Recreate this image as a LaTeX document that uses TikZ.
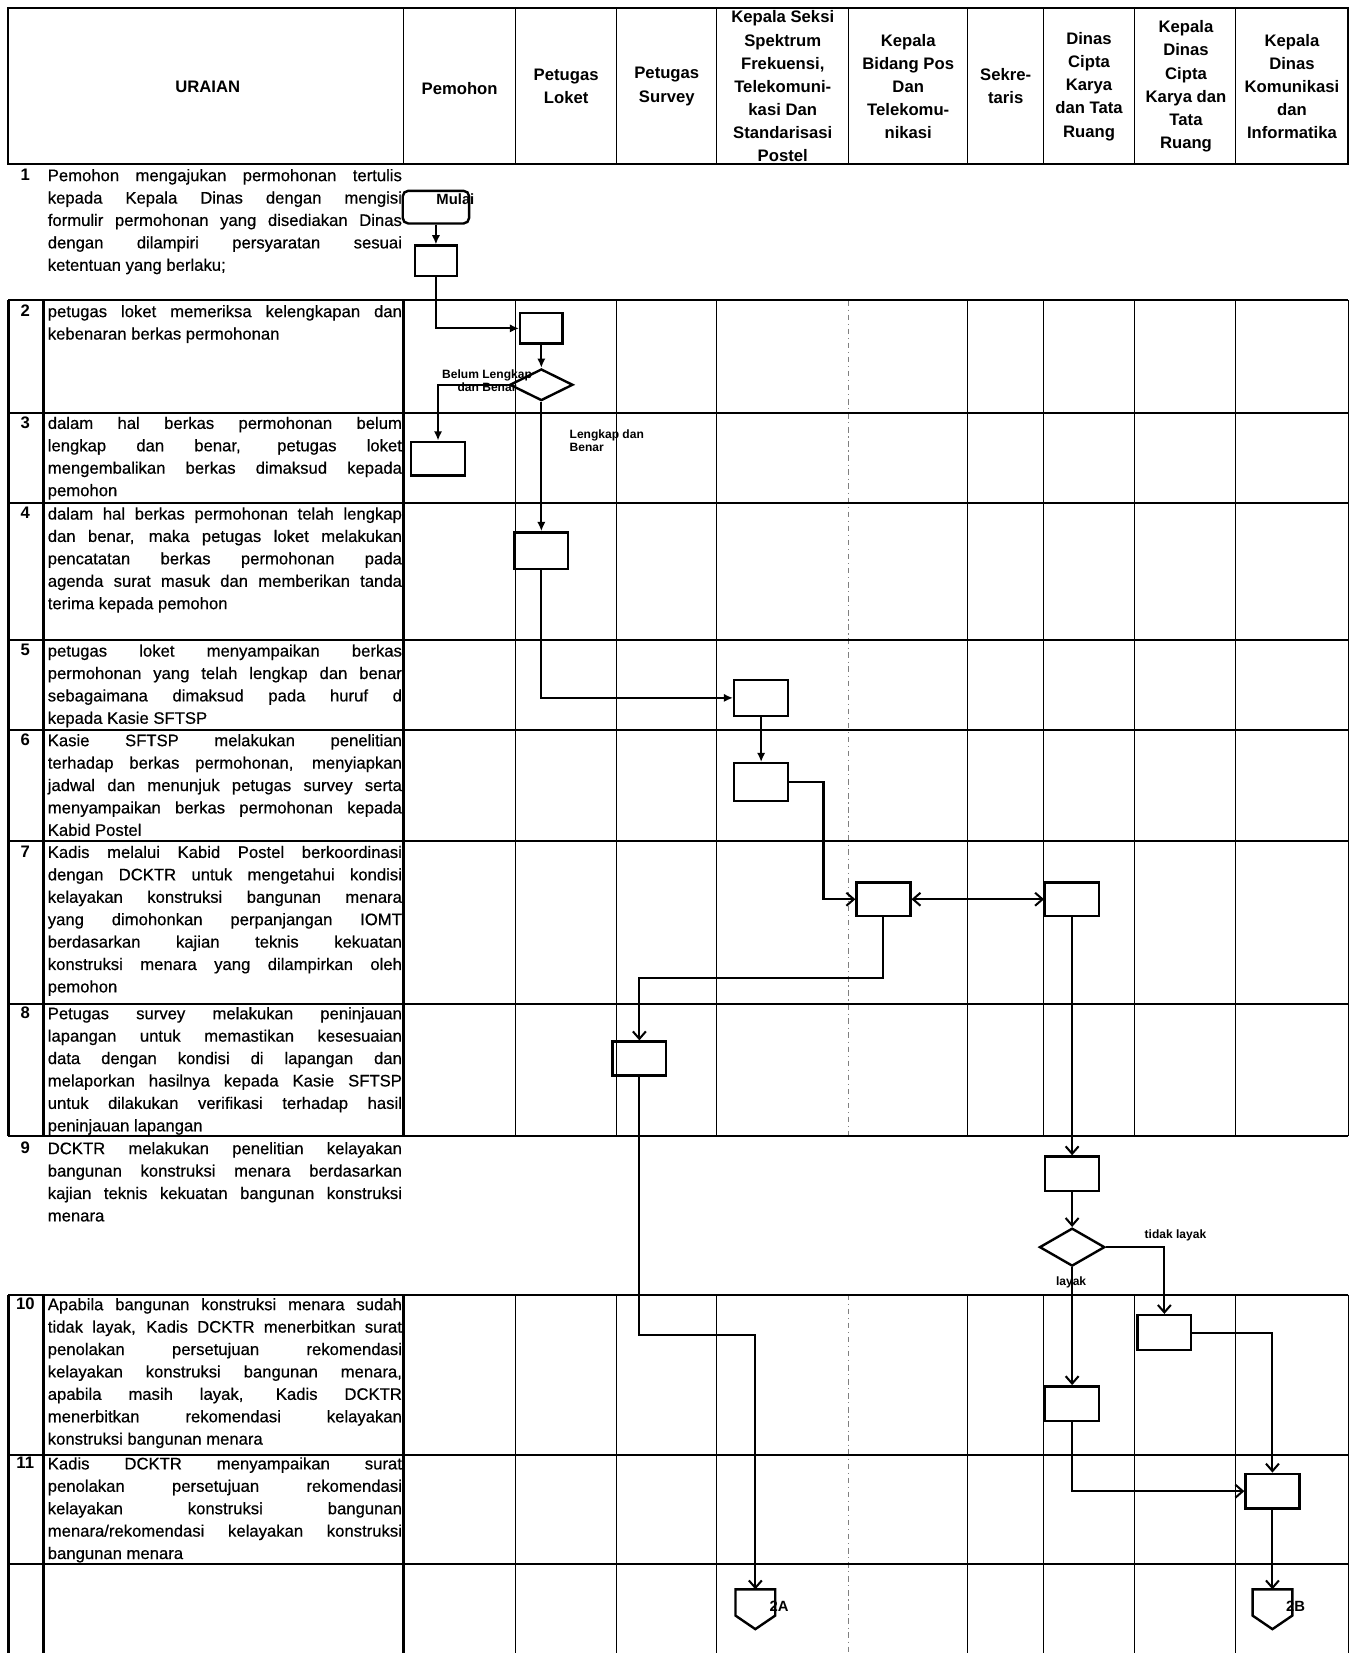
\documentclass[tikz,border=0pt]{standalone}
\usepackage{fontspec}
\setmainfont{Liberation Sans}
\newfontfamily\scanfont{Liberation Sans}[FakeBold=0.5]
\usetikzlibrary{arrows.meta,calc,shapes.geometric}

\begin{document}
\begin{tikzpicture}[x=0.02cm, y=-0.02cm, font=\fontsize{9}{12.1}\selectfont,
  hdr/.style={font=\fontsize{9}{12.5}\selectfont\bfseries, align=center, inner sep=0},
  uraian/.style={anchor=north west, text width=6.72cm, align=justify, inner sep=0, font=\fontsize{9}{12.1}\scanfont},
  nomor/.style={anchor=north, inner sep=0, font=\fontsize{9}{12.1}\selectfont\bfseries},
  hline/.style={line width=1.1pt},
  vline/.style={line width=0.6pt},
  tebal/.style={line width=1.6pt},
  box/.style={draw, line width=1.3pt, minimum width=1.02cm, minimum height=0.66cm, inner sep=0},
  smallbox/.style={box, minimum width=0.8cm, minimum height=0.58cm},
  terminal/.style={box, rounded corners=3pt, minimum width=1.26cm, minimum height=0.62cm},
  decision/.style={draw, line width=1.3pt, diamond, inner sep=0, minimum width=1.2cm, minimum height=0.6cm},
  conn/.style={minimum width=0.74cm, minimum height=0.74cm, inner sep=0},
  lbl/.style={font=\fontsize{6.5}{7}\selectfont\bfseries, inner sep=0},
  flowf/.style={line width=1.1pt, -{Latex[length=5pt,width=4.5pt]}},
  flowo/.style={line width=1.1pt, -{Straight Barb[length=4pt,width=7pt]}}]
\useasboundingbox (0,0) rectangle (1286,1568);

\draw[hline] (8,8) rectangle (1279,156);
\foreach \x in {383,489,585,680,805,918,990,1076,1172}
  \draw[vline] (\x,8) -- (\x,156);
\foreach \t/\b in {285/1078,1228/1568} {
  \foreach \x in {489,585,680,918,990,1076,1172,1279}
    \draw[vline] (\x,\t) -- (\x,\b);
  \draw[vline, gray, dash dot] (805,\t) -- (805,\b);
  \foreach \x in {8,41,383}
    \draw[tebal] (\x,\t) -- (\x,\b);
}
\foreach \y in {285,392,477,607,692,798,952,1078,1228,1380,1484}
  \draw[hline] (8,\y) -- (1279,\y);

\node[hdr] (hUraian) at (197,82) {URAIAN};
\node[hdr] (hPemohon) at (436,84) {Pemohon};
\node[hdr] (hLoket) at (537,82) {Petugas\\Loket};
\node[hdr] (hSurvey) at (632.5,82) {Petugas\\Survey};
\node[hdr] (hKasie) at (742.5,82) {Kepala Seksi\\Spektrum\\Frekuensi,\\Telekomuni-\\kasi Dan\\Standarisasi\\Postel};
\node[hdr] (hKabid) at (861.5,82) {Kepala\\Bidang Pos\\Dan\\Telekomu-\\nikasi};
\node[hdr] (hSekre) at (954,82) {Sekre-\\taris};
\node[hdr] (hDinas) at (1033,82) {Dinas\\Cipta\\Karya\\dan Tata\\Ruang};
\node[hdr] (hKadis) at (1125,82) {Kepala\\Dinas\\Cipta\\Karya dan\\Tata\\Ruang};
\node[hdr] (hKominfo) at (1225.5,82) {Kepala\\Dinas\\Komunikasi\\dan\\Informatika};

\foreach \n/\y in {1/160,2/289,3/395,4/481,5/611,6/696,7/802,8/955,9/1083,10/1231,11/1382}
  \node[nomor] (n\n) at (24,\y) {\n};

\node[uraian] (t1) at (45,160) {Pemohon mengajukan permohonan tertulis\linebreak kepada Kepala Dinas dengan mengisi\linebreak formulir permohonan yang disediakan Dinas\linebreak dengan dilampiri persyaratan sesuai\linebreak ketentuan yang berlaku;};
\node[uraian] (t2) at (45,289) {petugas loket memeriksa kelengkapan dan\linebreak kebenaran berkas permohonan};
\node[uraian] (t3) at (45,395) {dalam hal berkas permohonan belum\linebreak lengkap dan benar, petugas loket\linebreak mengembalikan berkas dimaksud kepada\linebreak pemohon};
\node[uraian] (t4) at (45,481) {dalam hal berkas permohonan telah lengkap\linebreak dan benar, maka petugas loket melakukan\linebreak pencatatan berkas permohonan pada\linebreak agenda surat masuk dan memberikan tanda\linebreak terima kepada pemohon};
\node[uraian] (t5) at (45,611) {petugas loket menyampaikan berkas\linebreak permohonan yang telah lengkap dan benar\linebreak sebagaimana dimaksud pada huruf d\linebreak kepada Kasie SFTSP};
\node[uraian] (t6) at (45,696) {Kasie SFTSP melakukan penelitian\linebreak terhadap berkas permohonan, menyiapkan\linebreak jadwal dan menunjuk petugas survey serta\linebreak menyampaikan berkas permohonan kepada\linebreak Kabid Postel};
\node[uraian] (t7) at (45,802) {Kadis melalui Kabid Postel berkoordinasi\linebreak dengan DCKTR untuk mengetahui kondisi\linebreak kelayakan konstruksi bangunan menara\linebreak yang dimohonkan perpanjangan IOMT\linebreak berdasarkan kajian teknis kekuatan\linebreak konstruksi menara yang dilampirkan oleh\linebreak pemohon};
\node[uraian] (t8) at (45,955) {Petugas survey melakukan peninjauan\linebreak lapangan untuk memastikan kesesuaian\linebreak data dengan kondisi di lapangan dan\linebreak melaporkan hasilnya kepada Kasie SFTSP\linebreak untuk dilakukan verifikasi terhadap hasil\linebreak peninjauan lapangan};
\node[uraian] (t9) at (45,1083) {DCKTR melakukan penelitian kelayakan\linebreak bangunan konstruksi menara berdasarkan\linebreak kajian teknis kekuatan bangunan konstruksi\linebreak menara};
\node[uraian] (t10) at (45,1231) {Apabila bangunan konstruksi menara sudah\linebreak tidak layak, Kadis DCKTR menerbitkan surat\linebreak penolakan persetujuan rekomendasi\linebreak kelayakan konstruksi bangunan menara,\linebreak apabila masih layak, Kadis DCKTR\linebreak menerbitkan rekomendasi kelayakan\linebreak konstruksi bangunan menara};
\node[uraian] (t11) at (45,1382) {Kadis DCKTR menyampaikan surat\linebreak penolakan persetujuan rekomendasi\linebreak kelayakan konstruksi bangunan\linebreak menara/rekomendasi kelayakan konstruksi\linebreak bangunan menara};

\node[terminal] (mulai) at (413.5,196.5) {};
\node[font=\fontsize{8}{9}\selectfont\bfseries, inner sep=0] (mulaiTxt) at (432,189) {Mulai};
\node[smallbox] (p1) at (413.5,247.5) {};
\node[smallbox] (l1) at (513.5,311.5) {};
\node[decision] (cek1) at (513.5,365) {};
\node[box, minimum height=0.64cm] (p2) at (415.5,435) {};
\node[box, minimum height=0.7cm] (l2) at (513.5,522.5) {};
\node[box, minimum height=0.68cm] (k1) at (722,662) {};
\node[box, minimum height=0.72cm] (k2) at (722,742) {};
\node[box, minimum height=0.64cm] (b1) at (838,853) {};
\node[box, minimum height=0.64cm] (d1) at (1017,853) {};
\node[box, minimum height=0.64cm] (s1) at (606.5,1004) {};
\node[box] (d2) at (1017,1113.5) {};
\node[decision, minimum width=1.24cm, minimum height=0.72cm] (cek2) at (1017,1183) {};
\node[box] (c1) at (1104.5,1264) {};
\node[box] (d4) at (1017,1331.5) {};
\node[box] (k4) at (1207,1414.5) {};
\node[conn] (conA) at (716.5,1526.5) {};
\node[conn] (conB) at (1207,1526.5) {};
\foreach \c in {conA,conB}
  \draw[line width=1.3pt] (\c.north west) -- (\c.north east) -- ($(\c.east)+(0,6)$) -- (\c.south) -- ($(\c.west)+(0,6)$) -- cycle;
\node[font=\fontsize{8}{9}\selectfont\bfseries, inner sep=0] (tA) at (739,1524) {2A};
\node[font=\fontsize{8}{9}\selectfont\bfseries, inner sep=0] (tB) at (1229,1524) {2B};

\node[lbl, align=center] (lBelum) at (462,361) {Belum Lengkap\\dan Benar};
\node[lbl, align=left, anchor=north west] (lLengkap) at (540,407) {Lengkap dan\\Benar};
\node[lbl] (lTidak) at (1115,1172) {tidak layak};
\node[lbl] (lLayak) at (1016,1216) {layak};

\draw[flowf] (mulai) -- (p1);
\draw[flowf] (p1.south) |- (l1.west);
\draw[flowf] (l1) -- (cek1);
\draw[flowf] (cek1.west) -| (p2.north);
\draw[flowf] (cek1) -- (l2);
\draw[flowf] (l2.south) |- (k1.west);
\draw[flowf] (k1) -- (k2);
\draw[flowo] (k2.east) -- ++(32.5,0) |- (b1.west);
\draw[flowo, {Straight Barb[length=4pt,width=7pt]}-{Straight Barb[length=4pt,width=7pt]}] (b1) -- (d1);
\draw[flowo] (b1.south) -- ++(0,58) -| (s1.north);
\draw[flowo] (s1.south) -- ++(0,245) -| (conA.north);
\draw[flowo] (d1) -- (d2);
\draw[flowo] (d2) -- (cek2);
\draw[flowo] (cek2.east) -| (c1.north);
\draw[flowo] (cek2) -- (d4);
\draw[flowo] (c1.east) -| (k4.north);
\draw[flowo] (d4.south) |- (k4.west);
\draw[flowo] (k4) -- (conB);
\end{tikzpicture}
\end{document}
